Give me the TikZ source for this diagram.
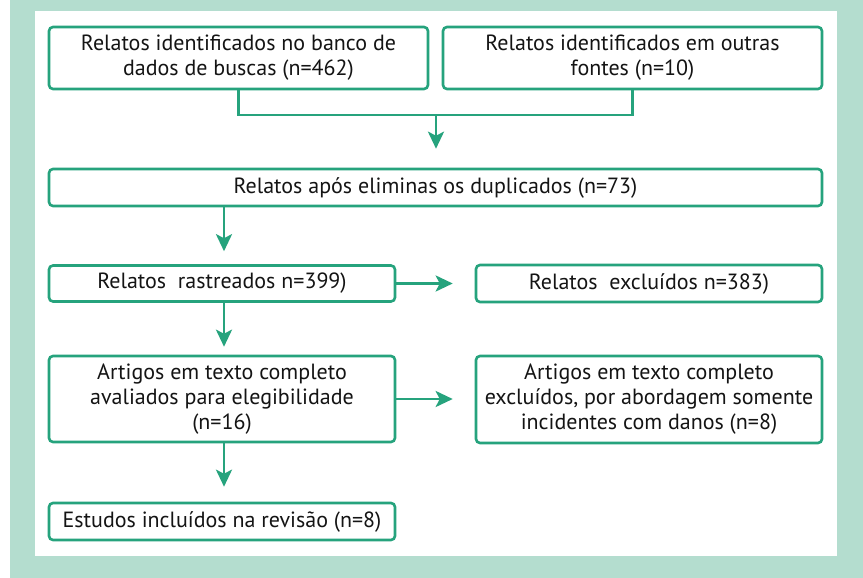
\documentclass[tikz,border=0pt]{standalone}
\usepackage{fontspec}
\setmainfont{PT Sans}
\usetikzlibrary{arrows.meta}
\definecolor{grn}{RGB}{38,163,125}
\definecolor{bgg}{RGB}{180,221,207}
\definecolor{txt}{RGB}{20,20,20}
\begin{document}
\begin{tikzpicture}[x=1pt,y=-1pt,
  box/.style={draw=grn, line width=2.6pt, rounded corners=4pt, fill=white,
    align=center, inner sep=0pt, text=txt, font=\fontsize{22}{25}\selectfont},
  conn/.style={draw=grn, line width=2.6pt},
  arr/.style={conn, -{Stealth[length=17pt,width=16pt,inset=4pt]}}]
\useasboundingbox (0,0) rectangle (863,578);
\fill[bgg] (10,0) rectangle (863,578);
\fill[white] (35,11) rectangle (837,556);
\node[box, minimum width=379pt, minimum height=62pt] (b1) at (238.5,58) {Relatos identificados no banco de\\dados de buscas (n=462)};
\node[box, minimum width=379pt, minimum height=62pt] (b2) at (632.5,58) {Relatos identificados em outras\\fontes (n=10)};
\node[box, minimum width=773pt, minimum height=37pt] (b3) at (435.5,187.5) {Relatos após eliminas os duplicados (n=73)};
\node[box, minimum width=346pt, minimum height=36pt] (b4) at (222,283.5) {Relatos\ \ rastreados n=399)};
\node[box, minimum width=346pt, minimum height=37pt] (b5) at (649,283.5) {Relatos\ \ excluídos n=383)};
\node[box, minimum width=346pt, minimum height=86pt] (b6) at (222,399) {Artigos em texto completo\\avaliados para elegibilidade\\(n=16)};
\node[box, minimum width=346pt, minimum height=87pt] (b7) at (649,399.5) {Artigos em texto completo\\excluídos, por abordagem somente\\incidentes com danos (n=8)};
\node[box, minimum width=346pt, minimum height=37pt] (b8) at (222,521.5) {Estudos incluídos na revisão (n=8)};
\coordinate (j) at (436,115);
\draw[conn] (b1.south) |- (j) -| (b2.south);
\draw[arr, shorten >=19pt] (j) -- (j |- b3.north);
\draw[arr, shorten >=13pt] ([xshift=2pt]b4.north |- b3.south) -- ([xshift=2pt]b4.north);
\draw[arr, shorten >=8pt] ([xshift=2pt]b4.south) -- ([xshift=2pt]b6.north);
\draw[arr, shorten >=15pt] ([xshift=2pt]b6.south) -- ([xshift=2pt]b8.north);
\draw[arr, shorten >=22pt] (b4.east) -- (b4.east -| b5.west);
\draw[arr, shorten >=22pt] (b6.east) -- (b6.east -| b7.west);
\end{tikzpicture}
\end{document}
